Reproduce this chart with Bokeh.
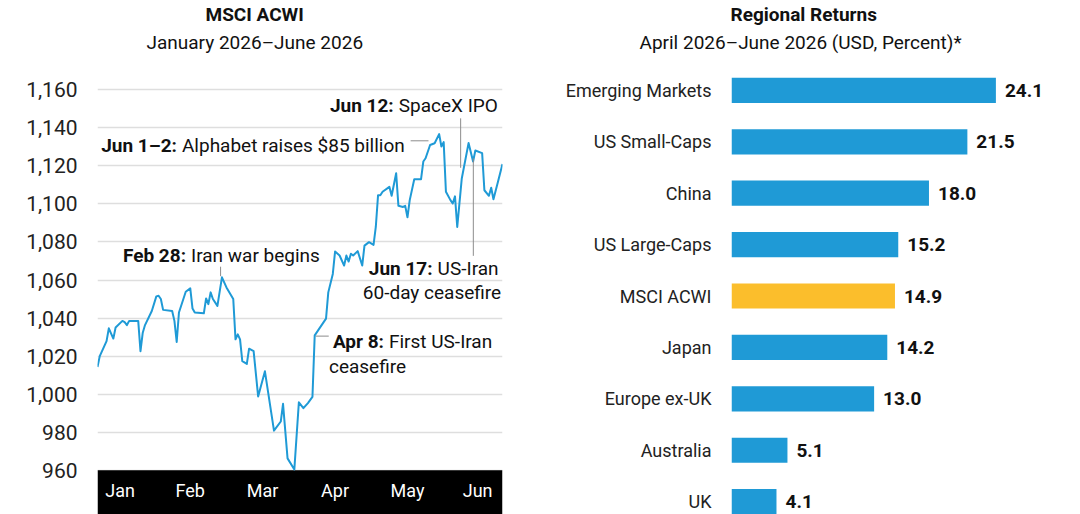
import pandas as pd
from bokeh.plotting import figure
from bokeh.models import (Range1d, FixedTicker, NumeralTickFormatter, DatetimeTickFormatter,
                          Title, Label, BoxAnnotation)
from bokeh.layouts import row
from bokeh.embed import file_html
from bokeh.resources import INLINE
from bokeh.core.properties import value

FONT = "Roboto"
BLUE = "#1f9ad6"
YELLOW = "#fbbe2c"

# ---------------- data: MSCI ACWI index level ----------------
acwi_dates = [
    "2026-01-02", "2026-01-03", "2026-01-06", "2026-01-07", "2026-01-09", "2026-01-10",
    "2026-01-13", "2026-01-14", "2026-01-15", "2026-01-16", "2026-01-20", "2026-01-21",
    "2026-01-22", "2026-01-23", "2026-01-26", "2026-01-28", "2026-01-29", "2026-01-30",
    "2026-01-31", "2026-02-04", "2026-02-05", "2026-02-06", "2026-02-07", "2026-02-10",
    "2026-02-12", "2026-02-13", "2026-02-14", "2026-02-18", "2026-02-19", "2026-02-20",
    "2026-02-21", "2026-02-22", "2026-02-24", "2026-02-26", "2026-02-28", "2026-03-03",
    "2026-03-04", "2026-03-05", "2026-03-06", "2026-03-07", "2026-03-09", "2026-03-10",
    "2026-03-12", "2026-03-14", "2026-03-17", "2026-03-21", "2026-03-24", "2026-03-25",
    "2026-03-27", "2026-03-30", "2026-04-01", "2026-04-03", "2026-04-05", "2026-04-07",
    "2026-04-08", "2026-04-13", "2026-04-14", "2026-04-16", "2026-04-17", "2026-04-19",
    "2026-04-21", "2026-04-22", "2026-04-23", "2026-04-24", "2026-04-25", "2026-04-27",
    "2026-04-29", "2026-04-30", "2026-05-02", "2026-05-04", "2026-05-05", "2026-05-06",
    "2026-05-07", "2026-05-08", "2026-05-11", "2026-05-12", "2026-05-14", "2026-05-15",
    "2026-05-17", "2026-05-18", "2026-05-19", "2026-05-20", "2026-05-22", "2026-05-25",
    "2026-05-26", "2026-05-27", "2026-05-29", "2026-05-31", "2026-06-02", "2026-06-03",
    "2026-06-04", "2026-06-05", "2026-06-07", "2026-06-08", "2026-06-09", "2026-06-10",
    "2026-06-12", "2026-06-15", "2026-06-17", "2026-06-18", "2026-06-21", "2026-06-22",
    "2026-06-24", "2026-06-25", "2026-06-26", "2026-06-28", "2026-06-30",
]
acwi_values = [
    1014.3, 1020.0, 1027.9, 1034.6, 1029.2, 1035.0,
    1038.5, 1037.9, 1036.3, 1038.5, 1038.5, 1022.6,
    1032.3, 1036.3, 1043.7, 1051.4, 1051.7, 1050.0,
    1044.3, 1043.7, 1038.5, 1027.4, 1042.9, 1053.8,
    1055.6, 1045.0, 1042.9, 1042.5, 1050.3, 1047.3,
    1053.5, 1050.0, 1046.4, 1061.4, 1056.1, 1050.0,
    1028.8, 1031.4, 1028.8, 1017.3, 1015.9, 1023.9,
    1022.6, 998.8, 1012.0, 980.8, 985.6, 994.9,
    966.2, 960.4, 995.7, 992.6, 995.3, 998.5,
    1030.9, 1039.7, 1053.5, 1063.2, 1075.0, 1072.9,
    1067.6, 1072.9, 1069.7, 1073.8, 1072.9, 1075.2,
    1067.6, 1078.1, 1079.9, 1078.5, 1087.9, 1104.6,
    1104.6, 1106.4, 1109.0, 1104.3, 1116.1, 1099.0,
    1098.4, 1099.0, 1093.0, 1102.0, 1113.0, 1113.0,
    1122.3, 1124.0, 1131.0, 1131.9, 1136.7, 1130.2,
    1132.5, 1106.4, 1102.0, 1100.2, 1104.0, 1087.9,
    1113.4, 1132.0, 1122.3, 1128.1, 1126.7, 1107.2,
    1104.3, 1108.5, 1102.5, 1111.7, 1121.0,
]
acwi_y_ticks = [960, 980, 1000, 1020, 1040, 1060, 1080, 1100, 1120, 1140, 1160]
month_labels = ["Jan", "Feb", "Mar", "Apr", "May", "Jun"]
month_label_dates = ["2026-01-12", "2026-02-12", "2026-03-16", "2026-04-17", "2026-05-19", "2026-06-19"]

event_bold = ["Jun 12:", "Jun 1\u20132:", "Feb 28:", "Apr 8:", "Jun 17:"]
event_text = ["SpaceX IPO", "Alphabet raises $85 billion", "Iran war begins", "First US-Iran", "US-Iran"]
event_second_line = ["", "", "", "ceasefire", "60-day ceasefire"]

# ---------------- data: regional returns ----------------
regions = ["Emerging Markets", "US Small-Caps", "China", "US Large-Caps", "MSCI ACWI",
           "Japan", "Europe ex-UK", "Australia", "UK"]
region_returns = [24.1, 21.5, 18.0, 15.2, 14.9, 14.2, 13.0, 5.1, 4.1]


def ms_from_day(d):
    return (pd.Timestamp("2026-01-01") + pd.Timedelta(days=d)).timestamp() * 1000


def add_titles(p, main_text, sub_text, main_offset, sub_offset):
    sub = Title(text=sub_text, text_font=FONT, text_font_size="19px", text_font_style="normal",
                text_color="#111", align="left", offset=sub_offset, standoff=7)
    main = Title(text=main_text, text_font=FONT, text_font_size="19px", text_font_style="bold",
                 text_color="#111", align="left", offset=main_offset, standoff=0)
    p.add_layout(sub, "above")
    p.add_layout(main, "above")


# ---------------- left chart ----------------
dates = pd.to_datetime(acwi_dates)
p1 = figure(width=540, height=514, x_axis_type="datetime", output_backend="svg",
            toolbar_location=None,
            x_range=Range1d(dates[0], dates[-1]), y_range=Range1d(936.7, 1177.0),
            min_border_left=97, min_border_right=38, min_border_top=0, min_border_bottom=0)
p1.title.text = ""
p1.outline_line_color = None
add_titles(p1, "MSCI ACWI", "January 2026\u2013June 2026", 108, 49)

p1.xgrid.visible = False
p1.ygrid.ticker = FixedTicker(ticks=acwi_y_ticks)
p1.ygrid.grid_line_color = "#dedede"
p1.ygrid.grid_line_width = 1.5

# black month band below the 960 line
p1.add_layout(BoxAnnotation(top=acwi_y_ticks[0], fill_color="black", fill_alpha=1.0,
                            line_color=None, level="underlay"))

ya = p1.yaxis[0]
ya.ticker = FixedTicker(ticks=acwi_y_ticks)
ya.formatter = NumeralTickFormatter(format="0,0")
ya.axis_line_color = None
ya.major_tick_line_color = None
ya.minor_tick_line_color = None
ya.major_tick_out = 0
ya.major_tick_in = 0
ya.major_label_standoff = 20
ya.major_label_text_font = FONT
ya.major_label_text_font_size = "21px"
ya.major_label_text_color = "#222"

xa = p1.xaxis[0]
xa.fixed_location = acwi_y_ticks[0]
xa.ticker = FixedTicker(ticks=[pd.Timestamp(d).timestamp() * 1000 for d in month_label_dates])
xa.formatter = DatetimeTickFormatter(microseconds="%b", milliseconds="%b", seconds="%b",
                                     minsec="%b", minutes="%b", hourmin="%b", hours="%b",
                                     days="%b", months="%b", years="%b")
xa.axis_line_color = None
xa.major_tick_line_color = None
xa.minor_tick_line_color = None
xa.major_tick_out = 0
xa.major_tick_in = 0
xa.major_label_standoff = 10
xa.major_label_text_font = FONT
xa.major_label_text_font_size = "18px"
xa.major_label_text_color = "white"

p1.line(dates, acwi_values, line_color=BLUE, line_width=2, line_join="round")

# leader lines (event markers)
GREY = "#8c8c8c"
lead_x0 = [ms_from_day(161.5), ms_from_day(139.4), ms_from_day(55.4), ms_from_day(97.4), ms_from_day(167.1)]
lead_x1 = [ms_from_day(161.5), ms_from_day(147.3), ms_from_day(55.4), ms_from_day(103.2), ms_from_day(167.1)]
lead_y0 = [1119.0, 1133.2, 1062.0, 1030.5, 1124.0]
lead_y1 = [1145.0, 1133.2, 1067.0, 1030.5, 1072.7]
p1.segment(x0=lead_x0, y0=lead_y0, x1=lead_x1, y1=lead_y1, line_color=GREY, line_width=1)

# annotation text: split point (day) and vertical centre (index level)
split_day = [132.8, 37.0, 41.0, 128.5, 150.0]
text_y = [1151.5, 1130.9, 1072.7, 1027.9, 1066.3]
for i in range(len(event_bold)):
    p1.add_layout(Label(x=ms_from_day(split_day[i]), y=text_y[i], text=event_bold[i],
                        text_font=FONT, text_font_size="19px", text_font_style="bold",
                        text_color="#111", text_align="right", text_baseline="middle",
                        x_offset=-2))
    p1.add_layout(Label(x=ms_from_day(split_day[i]), y=text_y[i], text=event_text[i],
                        text_font=FONT, text_font_size="19px", text_font_style="normal",
                        text_color="#111", text_align="left", text_baseline="middle",
                        x_offset=3))
p1.add_layout(Label(x=ms_from_day(103.3), y=1014.7, text=event_second_line[3], text_font=FONT,
                    text_font_size="19px", text_color="#111", text_align="left",
                    text_baseline="middle"))
p1.add_layout(Label(x=ms_from_day(179.4), y=1053.5, text=event_second_line[4], text_font=FONT,
                    text_font_size="19px", text_color="#111", text_align="right",
                    text_baseline="middle"))

# ---------------- right chart ----------------
idx = list(range(len(regions)))
bar_colors = [YELLOW if r == "MSCI ACWI" else BLUE for r in regions]
value_labels = [f"{v:.1f}" for v in region_returns]

p2 = figure(width=540, height=514, output_backend="svg", toolbar_location=None,
            x_range=Range1d(0, 30.9), y_range=Range1d(8.25, -0.64),
            x_axis_location=None, min_border_left=191, min_border_right=10,
            min_border_top=0, min_border_bottom=0)
p2.title.text = ""
p2.outline_line_color = None
p2.xgrid.visible = False
p2.ygrid.visible = False
add_titles(p2, "Regional Returns", "April 2026\u2013June 2026 (USD, Percent)*", -1, -92)

p2.hbar(y=idx, left=0, right=region_returns, height=0.49, fill_color=bar_colors,
        line_color=None)
p2.text(x=region_returns, y=idx, text=value_labels, x_offset=9, text_baseline="middle",
        text_align="left", text_font=value(FONT), text_font_size="19px",
        text_font_style="bold", text_color="#111")

yb = p2.yaxis[0]
yb.ticker = FixedTicker(ticks=idx)
yb.major_label_overrides = {i: r for i, r in zip(idx, regions)}
yb.axis_line_color = None
yb.major_tick_line_color = None
yb.minor_tick_line_color = None
yb.major_tick_out = 0
yb.major_tick_in = 0
yb.major_label_standoff = 20
yb.major_label_text_font = FONT
yb.major_label_text_font_size = "18px"
yb.major_label_text_color = "#222"

layout = row(p1, p2)
open("out.html", "w").write(file_html(layout, INLINE))
